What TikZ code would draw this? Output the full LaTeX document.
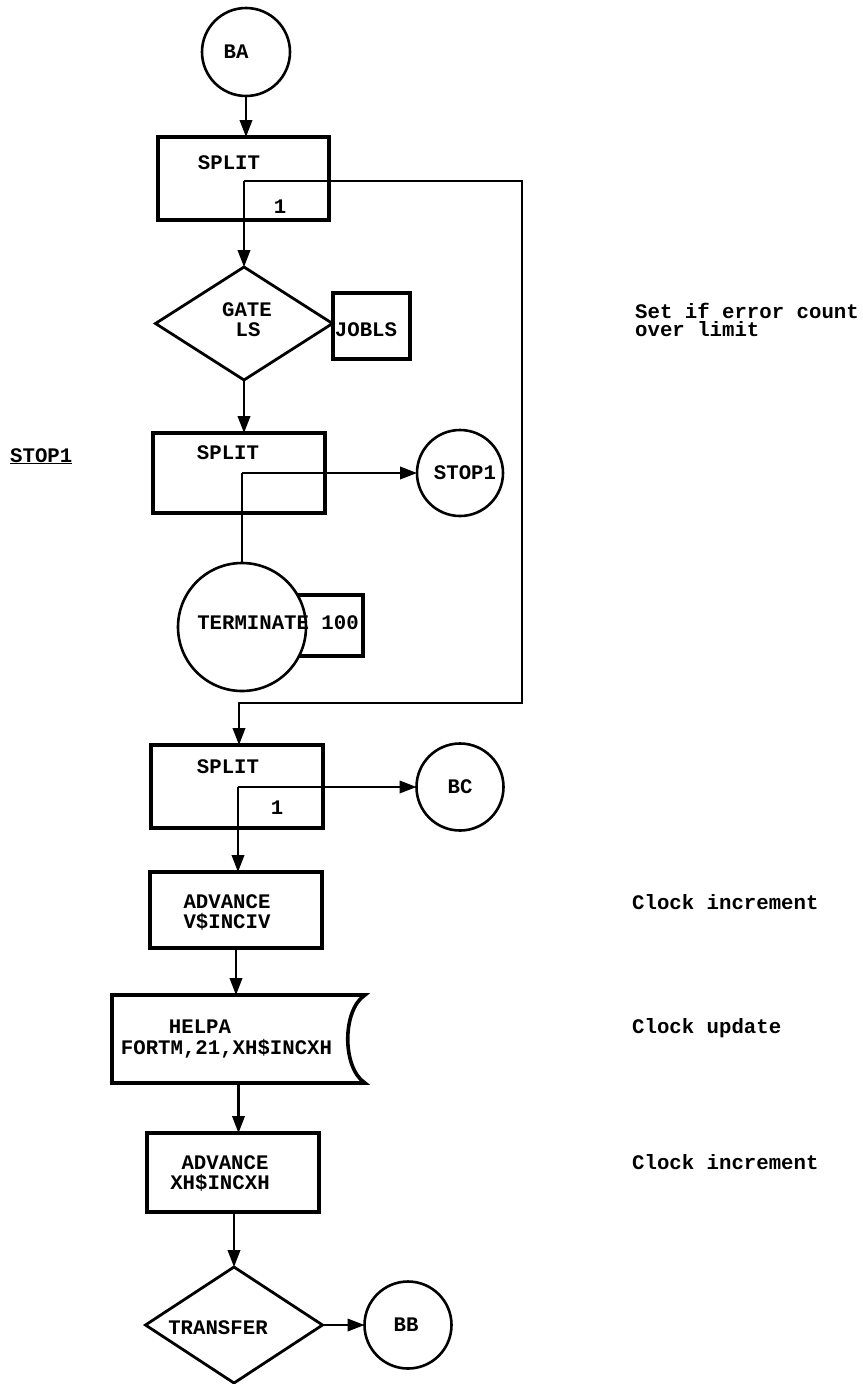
\documentclass[tikz,border=0pt]{standalone}
\usepackage{fontspec}
\newfontfamily\cour{Liberation Mono}
\usetikzlibrary{shapes.geometric,arrows.meta}
\begin{document}
\begin{tikzpicture}[x=1pt,y=-1pt,
  txt/.style={font=\cour\bfseries\fontsize{20.7}{20}\selectfont,inner sep=0pt,anchor=base},
  ltxt/.style={txt,anchor=base west},
  blk/.style={draw,rectangle,line width=3.6pt,inner sep=0pt,outer sep=0pt},
  circ/.style={draw,circle,line width=2.6pt,inner sep=0pt,outer sep=0pt,minimum size=#1},
  dia/.style={draw,diamond,line width=2.8pt,inner sep=0pt,outer sep=0pt},
  conn/.style={line width=2.1pt},
  arr/.style={conn,-{Triangle[length=17pt,width=12.5pt]}}
]
\fill[white] (0,0) rectangle (862,1384);
\useasboundingbox (0,0) rectangle (862,1384);

% ---- shapes ----
\node[circ=88] (ba) at (246,52) {};
\node[blk,minimum width=171,minimum height=83] (split1) at (243.5,178.5) {};
\coordinate (j1) at (244,181);
\node[dia,minimum width=177,minimum height=113] (gate) at (244,323.5) {};
\node[blk,minimum width=77,minimum height=66] (jobls) at (371.5,326) {};

\node[blk,minimum width=172,minimum height=80] (split2) at (239,473) {};
\coordinate (j2) at (242,473);
\node[circ=86] (stop1) at (460,473) {};
\node[blk,minimum width=83,minimum height=61] (tbox) at (321.5,625.5) {};
\node[circ=128,fill=white] (term) at (242,627) {};

\coordinate (r1) at (522,181);
\coordinate (r2) at (522,703);
\coordinate (r3) at (239,703);

\node[blk,minimum width=172,minimum height=83] (split3) at (237,786.5) {};
\coordinate (j3) at (238,787);
\node[circ=87] (bc) at (460,787) {};

\node[blk,minimum width=172,minimum height=76] (adv1) at (236,910) {};
\node[inner sep=0pt,outer sep=0pt,minimum width=253,minimum height=88] (helpa) at (238.5,1039) {};
\draw[line width=3.6pt,line join=miter] (helpa.north west) -- (helpa.north east)
  .. controls +(-23,15) and +(-23,-15) .. (helpa.south east) -- (helpa.south west) -- cycle;
\node[blk,minimum width=172,minimum height=79] (adv2) at (233,1172.5) {};
\node[dia,minimum width=177,minimum height=116] (trans) at (234,1325) {};
\node[circ=87] (bb) at (408,1325) {};

% ---- connectors ----
\draw[arr] (ba.south) -- (ba.south |- split1.north);
\draw[arr] (j1) -- (gate.north);
\draw[arr] (j1) -- (r1) -- (r2) -- (r3) -- (r3 |- split3.north);
\draw[arr] (gate.south) -- (gate.south |- split2.north);
\draw[arr] (j2) -- (stop1.west);
\draw[conn] (j2) -- (term.north);
\draw[arr] (j3) -- (bc.west);
\draw[arr] (j3) -- (j3 |- adv1.north);
\draw[arr] (adv1.south) -- (adv1.south |- helpa.north);
\draw[arr] (helpa.south) -- (helpa.south |- adv2.north);
\draw[arr] (adv2.south -| trans.north) -- (trans.north);
\draw[arr] (trans.east) -- (bb.west);

% ---- texts ----
\node[txt] (tba) at (236,58) {BA};
\node[txt] (ts1) at (229,169) {SPLIT};
\node[txt] (ts1n) at (280,213) {1};
\node[txt] (tgate) at (247,316) {GATE};
\node[txt] (tls) at (248,336) {LS};
\node[txt] (tjobls) at (366,336) {JOBLS};
\node[txt] (ts2) at (228,459) {SPLIT};
\node[txt] (tstop1) at (465,479) {STOP1};
\node[ltxt] (lstop1) at (10,462) {\underline{STOP1}};
\node[txt] (tterm) at (278,629) {TERMINATE 100};
\node[txt] (ts3) at (228,773) {SPLIT};
\node[txt] (ts3n) at (277,814) {1};
\node[txt] (tbc) at (460,793) {BC};
\node[txt] (ta1a) at (227,908) {ADVANCE};
\node[txt] (ta1b) at (227,928) {V\$INCIV};
\node[txt] (th1) at (200,1033) {HELPA};
\node[txt] (th2) at (226.5,1054) {FORTM,21,XH\$INCXH};
\node[txt] (ta2a) at (225,1169) {ADVANCE};
\node[txt] (ta2b) at (220,1189) {XH\$INCXH};
\node[txt] (ttr) at (218,1334) {TRANSFER};
\node[txt] (tbb) at (406,1331) {BB};

\node[ltxt] (c1a) at (635,318) {Set if error count};
\node[ltxt] (c1b) at (635,336) {over limit};
\node[ltxt] (c2) at (632,909) {Clock increment};
\node[ltxt] (c3) at (632,1033) {Clock update};
\node[ltxt] (c4) at (632,1169) {Clock increment};
\end{tikzpicture}
\end{document}
